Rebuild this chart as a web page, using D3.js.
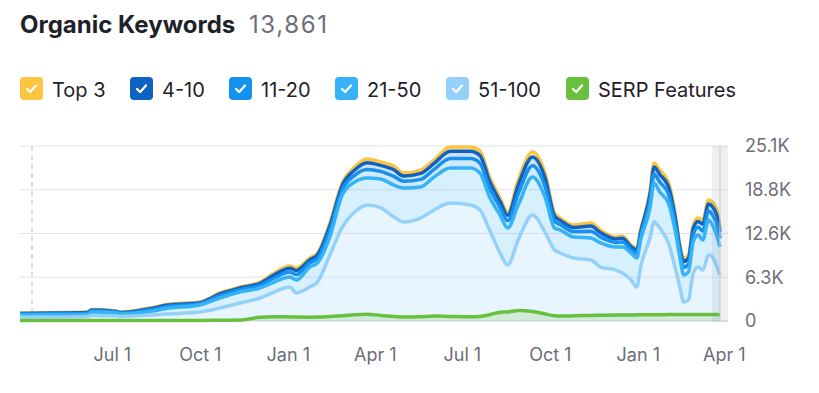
<!DOCTYPE html>
<html>
<head>
<meta charset="utf-8">
<script src="https://cdn.jsdelivr.net/npm/d3@7"></script>
<style>
  body { margin: 0; background: #fff; font-family: Inter, "Noto Sans", sans-serif; }
  svg { display: block; }
</style>
</head>
<body>
<div id="chart"></div>
<script>
// sample dates
const dates = [
  "2023-03-27","2023-04-30","2023-06-05","2023-06-10","2023-07-06","2023-07-09","2023-08-13","2023-08-27",
  "2023-10-01","2023-10-22","2023-11-12","2023-12-03","2023-12-18","2024-01-03","2024-01-10","2024-01-24",
  "2024-02-01","2024-02-14","2024-02-27","2024-03-11","2024-03-24","2024-04-07","2024-04-21","2024-05-01",
  "2024-05-19","2024-06-02","2024-06-19","2024-07-10","2024-07-20","2024-07-30","2024-08-10","2024-08-18",
  "2024-08-29","2024-09-13","2024-09-26","2024-10-06","2024-10-12","2024-10-26","2024-11-13","2024-11-23",
  "2024-12-09","2024-12-16","2024-12-25","2024-12-31","2025-01-04","2025-01-14","2025-01-18","2025-01-24",
  "2025-02-02","2025-02-09","2025-02-14","2025-02-18","2025-02-23","2025-02-28","2025-03-05","2025-03-10",
  "2025-03-16","2025-03-20","2025-03-26","2025-03-28"
];

const pos51to100 = [
  570,580,650,790,720,650,860,1000,1290,1860,2580,3300,4160,4880,4020,4880,
  5590,9460,13480,15630,16630,16270,14910,14200,14770,15920,16920,16630,15920,13050,9750,8030,
  11620,15200,12760,10180,9750,9030,8750,7740,7310,6880,5880,4880,7740,12050,14200,13340,
  11190,7740,4880,2720,3010,6880,7740,7310,9460,9180,7310,6600
];
const pos21to50 = [
  290,300,280,500,430,350,570,790,1000,1440,1580,1430,1430,1430,1860,2860,
  2730,2590,4590,4300,3880,4090,4590,4870,4450,4730,5020,5310,5300,4730,5450,5310,
  5010,5450,5020,3160,3300,3020,3150,3450,3300,3730,3870,4150,3880,4300,5590,5160,
  5730,5310,4300,3880,4020,4450,4590,4310,5020,4590,4310,4010
];
const pos11to20 = [
  130,145,160,160,125,130,230,260,195,325,325,385,580,710,775,580,
  645,900,775,970,1225,1100,1230,970,1095,1100,1355,1355,1420,1290,1100,1030,
  1615,1610,1550,970,775,775,970,840,650,710,520,650,645,1100,1290,1420,
  1355,1100,775,1095,1095,1100,1100,1285,1290,1480,1610,1230
];
const pos4to10 = [
  100,110,125,125,100,100,180,205,150,250,250,300,450,555,600,450,
  500,700,600,750,950,855,955,750,850,855,1055,1055,1105,1005,855,800,
  1255,1255,1200,750,600,600,750,650,505,555,400,505,500,855,1005,1100,
  1055,855,600,850,850,855,855,1000,1005,1150,1255,955
];
const top3 = [
  60,65,75,75,55,60,100,115,85,145,145,175,260,315,345,260,
  285,400,345,430,545,485,545,430,485,485,600,600,635,575,485,460,
  720,715,690,430,345,345,430,370,285,315,230,285,285,485,575,630,
  600,485,345,485,485,485,485,575,575,660,715,545
];
const serp = [
  80,80,80,80,80,80,80,80,80,100,130,550,620,580,560,540,
  560,650,750,900,980,800,650,560,620,700,650,600,650,900,1250,1300,
  1500,1350,1000,750,700,750,800,820,850,850,870,880,880,900,900,900,
  920,920,930,930,930,940,940,940,950,950,950,950
];

const yTicks = [0, 6275, 12550, 18825, 25100];
const yTickLabels = ["0", "6.3K", "12.6K", "18.8K", "25.1K"];
const xTicks = ["2023-07-01","2023-10-01","2024-01-01","2024-04-01","2024-07-01","2024-10-01","2025-01-01","2025-04-01"];

const legendNames = ["Top 3", "4-10", "11-20", "21-50", "51-100", "SERP Features"];
const legendColors = ["#fcc43f", "#0d62c4", "#1592f0", "#36b3f7", "#94d1fa", "#68c03c"];

const width = 819, height = 393;
const margin = {top: 146, right: 99, bottom: 72, left: 20};
const parse = d3.timeParse("%Y-%m-%d");

const rows = dates.map((d, i) => ({
  date: parse(d),
  s51: pos51to100[i], s21: pos21to50[i], s11: pos11to20[i], s4: pos4to10[i], s3: top3[i],
  serp: serp[i]
}));

const keys = ["s51", "s21", "s11", "s4", "s3"];
const keyColor = {s3: legendColors[0], s4: legendColors[1], s11: legendColors[2], s21: legendColors[3], s51: legendColors[4]};

const svg = d3.select("#chart").append("svg")
    .attr("width", width)
    .attr("height", height);

// title
svg.append("text")
    .attr("x", 20).attr("y", 33)
    .attr("font-size", 24).attr("font-weight", 700)
    .attr("fill", "#1f2129")
    .text("Organic Keywords");
svg.append("text")
    .attr("x", 249).attr("y", 33)
    .attr("font-size", 24)
    .attr("letter-spacing", 1.6)
    .attr("fill", "#6c6e79")
    .text("13,861");

// legend
const legendX = [20, 130, 229, 335, 446, 566];
const leg = svg.append("g").selectAll("g")
  .data(legendNames)
  .join("g")
    .attr("transform", (d, i) => "translate(" + legendX[i] + ",77)");
leg.append("rect")
    .attr("width", 23).attr("height", 23).attr("rx", 4)
    .attr("fill", (d, i) => legendColors[i]);
leg.append("path")
    .attr("d", "M7,12 L10.2,15 L16,8.5")
    .attr("fill", "none")
    .attr("stroke", "#fff")
    .attr("stroke-width", 2.3)
    .attr("stroke-linecap", "round")
    .attr("stroke-linejoin", "round");
leg.append("text")
    .attr("x", 32).attr("y", 19.5)
    .attr("font-size", 20)
    .attr("fill", "#1f2129")
    .text(d => d);

const innerW = width - margin.left - margin.right;
const innerH = height - margin.top - margin.bottom;

const x = d3.scaleTime()
    .domain([parse("2023-03-27"), parse("2025-03-28")])
    .range([margin.left, margin.left + innerW]);
const y = d3.scaleLinear()
    .domain([0, 25100])
    .range([margin.top + innerH, margin.top]);

// grid
svg.append("g").selectAll("line")
  .data(yTicks)
  .join("line")
    .attr("x1", margin.left).attr("x2", 728)
    .attr("y1", d => y(d)).attr("y2", d => y(d))
    .attr("stroke", d => d === 0 ? "#cfd1d8" : "#e3e4ea")
    .attr("stroke-width", 1.2);

// dashed marker
svg.append("line")
    .attr("x1", 32).attr("x2", 32)
    .attr("y1", y(25100)).attr("y2", y(0))
    .attr("stroke", "#b9bbc2")
    .attr("stroke-dasharray", "5,4");

const stacked = d3.stack().keys(keys)(rows);

const area = d3.area()
    .x(d => x(d.data.date))
    .y0(d => y(d[0]))
    .y1(d => y(d[1]))
    .curve(d3.curveMonotoneX);

const line = d3.line()
    .x(d => x(d.data.date))
    .y(d => y(d[1]))
    .curve(d3.curveMonotoneX);

const plot = svg.append("g");

plot.selectAll(".layer")
  .data(stacked)
  .join("path")
    .attr("class", "layer")
    .attr("d", area)
    .attr("fill", d => keyColor[d.key])
    .attr("fill-opacity", d => d.key === "s51" ? 0.22 : 0.2);

// SERP features area + line
const serpArea = d3.area()
    .x(d => x(d.date))
    .y0(y(0))
    .y1(d => y(d.serp))
    .curve(d3.curveMonotoneX);
plot.append("path")
    .attr("d", serpArea(rows))
    .attr("fill", "#68c03c")
    .attr("fill-opacity", 0.18);

// draw lines top-first so lower series sit over it
plot.selectAll(".line")
  .data(stacked.slice().reverse())
  .join("path")
    .attr("class", "line")
    .attr("d", line)
    .attr("fill", "none")
    .attr("stroke", d => keyColor[d.key])
    .attr("stroke-width", 3.5)
    .attr("stroke-linejoin", "round");

plot.append("path")
    .attr("d", d3.line().x(d => x(d.date)).y(d => y(d.serp)).curve(d3.curveMonotoneX)(rows))
    .attr("fill", "none")
    .attr("stroke", "#68c03c")
    .attr("stroke-width", 3.5);

// end-of-range band
svg.append("rect")
    .attr("x", 712).attr("y", y(25100))
    .attr("width", 16).attr("height", y(0) - y(25100) + 1)
    .attr("fill", "#7a8796")
    .attr("fill-opacity", 0.13);
svg.append("line")
    .attr("x1", 720).attr("x2", 720)
    .attr("y1", y(25100)).attr("y2", y(0))
    .attr("stroke", "#c4cad0");

// axes
const yAxis = svg.append("g")
    .attr("transform", "translate(745,0)")
    .call(d3.axisRight(y).tickValues(yTicks).tickSize(0).tickPadding(0)
      .tickFormat((d, i) => yTickLabels[i]));
yAxis.select(".domain").remove();
yAxis.selectAll("text")
    .attr("font-family", "Inter, 'Noto Sans', sans-serif")
    .attr("font-size", 18)
    .attr("fill", "#6c6e79");

const xAxis = svg.append("g")
    .attr("transform", "translate(0," + (margin.top + innerH) + ")")
    .call(d3.axisBottom(x).tickValues(xTicks.map(parse)).tickSize(0).tickPadding(27)
      .tickFormat(d3.timeFormat("%b %-d")));
xAxis.select(".domain").remove();
xAxis.selectAll("text")
    .attr("font-family", "Inter, 'Noto Sans', sans-serif")
    .attr("font-size", 18)
    .attr("fill", "#6c6e79");
</script>
</body>
</html>
